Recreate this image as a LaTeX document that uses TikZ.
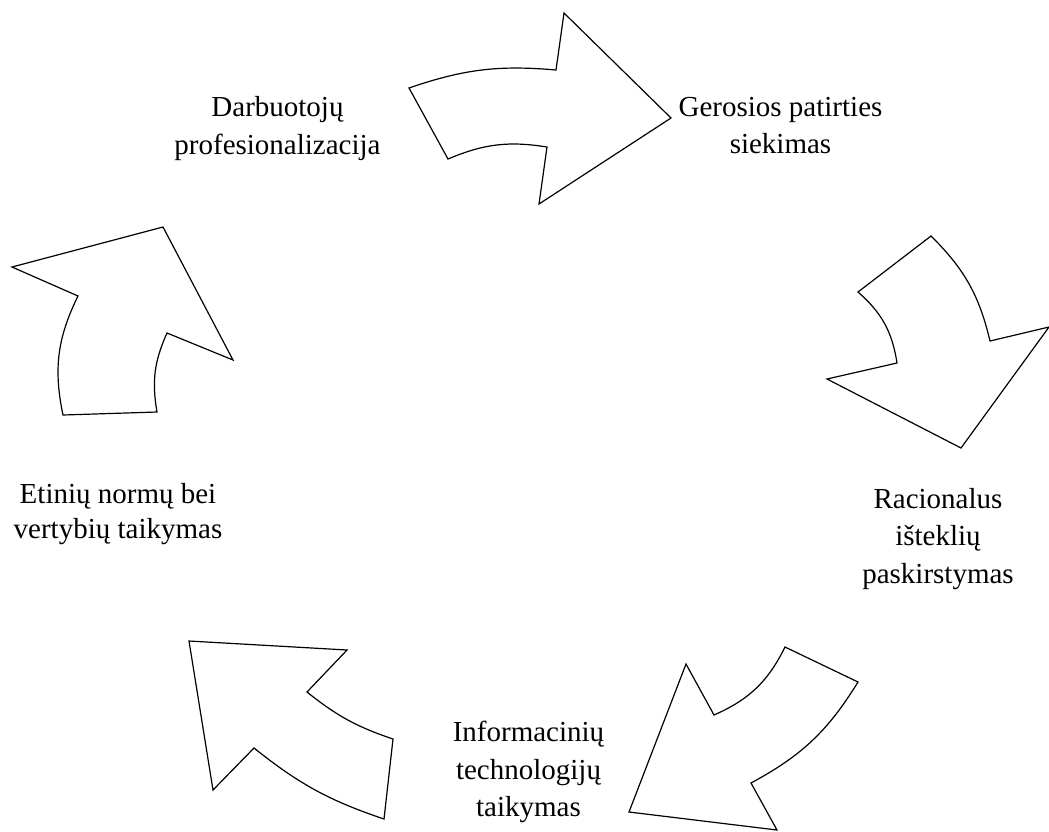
\documentclass[tikz,border=0pt]{standalone}
\usepackage{fontspec}
\setmainfont{Liberation Serif}
\begin{document}
\begin{tikzpicture}[x=1pt,y=-1pt,
  arrowshape/.style={draw=black, line width=1.2pt, line join=miter, fill=white},
  lbl/.style={font=\fontsize{29}{37.5}\selectfont, align=center, anchor=north, inner sep=0pt}]
\useasboundingbox (0,0) rectangle (1049,831);
% top arrow
\draw[arrowshape] (409,88) to[bend left=12] (556,70) -- (564,13) -- (671,118) -- (539,204) -- (547,147)
  to[bend right=16] (448,159) -- cycle;
% right arrow
\draw[arrowshape] (931,236) to[bend left=16] (990,341) -- (1049,327) -- (961,448) -- (827,379) -- (897,363)
  to[bend right=20] (858,292) -- cycle;
% bottom right arrow
\draw[arrowshape] (785,647) -- (858,682) to[bend left=15] (751,783) -- (777,830) -- (629,812) -- (686,664) -- (714,715)
  to[bend right=20] (785,647) -- cycle;
% bottom left arrow
\draw[arrowshape] (189,641) -- (347,650) -- (307,692) to[bend right=10] (393,739) -- (384,819)
  to[bend left=10] (254,748) -- (213,790) -- cycle;
% left arrow
\draw[arrowshape] (12,267) -- (163,227) -- (233,360) -- (167,333) to[bend right=17] (157,412) -- (63,415)
  to[bend left=19] (78,296) -- cycle;
% labels
\node[lbl] (darb) at (277.5,90.2) {\strut Darbuotojų\\\strut profesionalizacija};
\node[lbl] (ger) at (780.5,89.75) {\strut Gerosios patirties\\\strut siekimas};
\node[lbl] (rac) at (938,481.75) {\strut Racionalus\\\strut išteklių\\\strut paskirstymas};
\node[lbl] (inf) at (528.5,715.5) {\strut Informacinių\\\strut technologijų\\\strut taikymas};
\node[lbl, font=\fontsize{29}{35.5}\selectfont] (et) at (118,478.2) {\strut Etinių normų bei\\\strut vertybių taikymas};
\end{tikzpicture}
\end{document}
